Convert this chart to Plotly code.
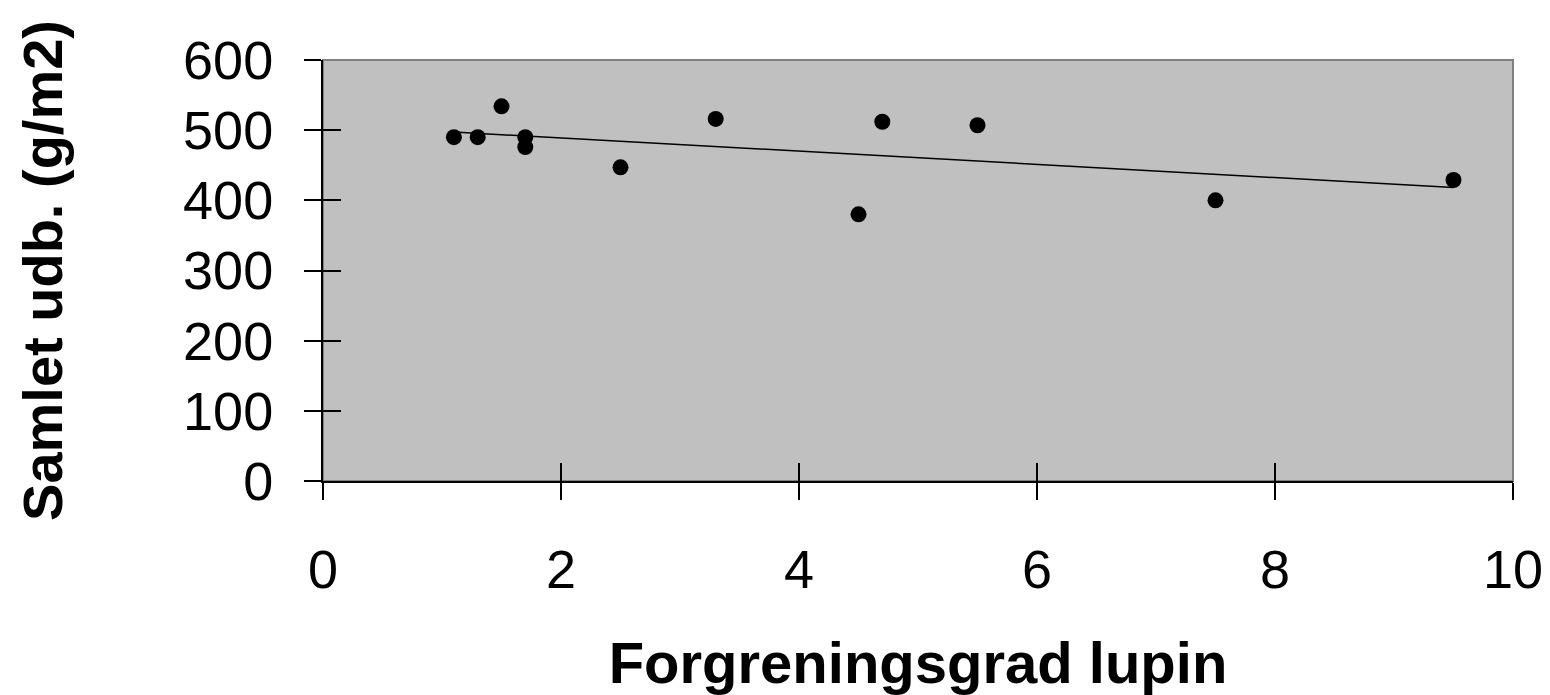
import numpy as np
import plotly.graph_objects as go

# Data
forgrening = [1.1, 1.3, 1.5, 1.7, 1.7, 2.5, 3.3, 4.5, 4.7, 5.5, 7.5, 9.5]
udbytte = [490, 490, 534, 490, 476, 447, 516, 380, 512, 507, 400, 429]

x_ticks = [0, 2, 4, 6, 8, 10]
y_ticks = [0, 100, 200, 300, 400, 500, 600]

x_title = "Forgreningsgrad lupin"
y_title = "Samlet udb. (g/m2)"

# Linear trend line (least squares)
slope, intercept = np.polyfit(forgrening, udbytte, 1)
trend_x = [min(forgrening), max(forgrening)]
trend_y = [slope * v + intercept for v in trend_x]

FONT = "Liberation Sans, Arial, sans-serif"

fig = go.Figure()
fig.add_trace(go.Scatter(x=trend_x, y=trend_y, mode="lines",
                         line=dict(color="black", width=1.5),
                         showlegend=False, hoverinfo="skip"))
fig.add_trace(go.Scatter(x=forgrening, y=udbytte, mode="markers",
                         marker=dict(color="black", size=16, symbol="circle"),
                         showlegend=False))
# invisible trace for overlay axes
fig.add_trace(go.Scatter(x=[None], y=[None], xaxis="x2", yaxis="y2",
                         showlegend=False, hoverinfo="skip"))

fig.update_layout(
    width=1542, height=687,
    margin=dict(l=315, r=37, t=52, b=214),
    paper_bgcolor="white",
    plot_bgcolor="#C0C0C0",
    font=dict(family=FONT, color="black"),
    xaxis=dict(range=[0, 10], tickvals=x_ticks, ticktext=[str(v) for v in x_ticks],
               showgrid=False, zeroline=False, automargin=False,
               showline=True, linecolor="black", linewidth=2,
               ticks="outside", ticklen=17, tickwidth=1.5, tickcolor="black",
               tickfont=dict(size=54, family=FONT),
               ticklabelstandoff=23, ticklabeloverflow="allow",
               title=dict(text="<b>" + x_title + "</b>", font=dict(size=58, family=FONT),
                          standoff=61)),
    yaxis=dict(range=[0, 600], tickvals=y_ticks, ticktext=[str(v) for v in y_ticks],
               showgrid=False, zeroline=False, automargin=False,
               showline=True, linecolor="black", linewidth=2,
               ticks="outside", ticklen=17, tickwidth=1.5, tickcolor="black",
               tickfont=dict(size=54, family=FONT),
               ticklabelstandoff=20,
               title=dict(text="<b>" + y_title + "</b>", font=dict(size=56, family=FONT),
                          standoff=102)),
    xaxis2=dict(range=[0, 10], tickvals=x_ticks, overlaying="x", anchor="y",
                side="bottom", showgrid=False, zeroline=False, showline=False,
                automargin=False,
                ticks="inside", ticklen=18, tickwidth=1.5, tickcolor="black",
                showticklabels=False),
    yaxis2=dict(range=[0, 600], tickvals=y_ticks, overlaying="y", anchor="x",
                side="left", showgrid=False, zeroline=False, showline=False,
                automargin=False,
                ticks="inside", ticklen=18, tickwidth=1.5, tickcolor="black",
                showticklabels=False),
    shapes=[dict(type="rect", xref="paper", yref="paper", x0=0, y0=0, x1=1, y1=1,
                 line=dict(color="#808080", width=2), layer="below")],
)

fig.write_html("out.html")
